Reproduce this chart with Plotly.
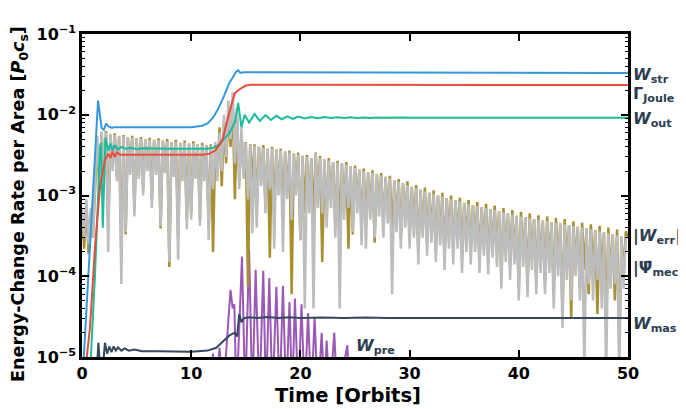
import plotly.graph_objects as go

# ---------------- data ----------------
# smooth curves: (time [orbits], value)
t_str = [0.15, 0.6, 1.0, 1.3, 1.47, 1.6, 1.8, 2.0, 2.2, 2.4, 2.7, 3.0, 5.0, 8.0, 10.0, 11.0, 11.5, 12.0, 12.5,
         13.0, 13.5, 13.8, 14.1, 14.3, 14.5, 14.8, 15.2, 16.0, 20.0, 30.0, 40.0, 50.0]
w_str = [9e-6, 1.07e-4, 1.05e-3, 5.7e-3, 1.5e-2, 1.1e-2, 6.8e-3, 6.5e-3, 7.8e-3, 7.2e-3, 6.9e-3, 7.0e-3, 7.0e-3,
         7.0e-3, 7.0e-3, 7.3e-3, 7.8e-3, 9.2e-3, 1.2e-2, 1.7e-2, 2.5e-2, 2.9e-2, 3.4e-2, 3.55e-2, 3.3e-2, 3.35e-2,
         3.35e-2, 3.3e-2, 3.3e-2, 3.3e-2, 3.3e-2, 3.3e-2]

t_joule = [0.4, 0.73, 1.19, 1.65, 2.1, 2.4, 2.6, 2.8, 3.0, 3.2, 3.5, 4.0, 8.0, 11.0, 11.7, 12.2, 12.6, 12.9, 13.2,
           13.5, 13.8, 14.0, 14.5, 15.0, 15.5, 20.0, 30.0, 50.0]
g_joule = [9e-6, 2.3e-5, 2.3e-4, 1.29e-3, 2.75e-3, 3.3e-3, 2.9e-3, 3.5e-3, 3.0e-3, 3.4e-3, 3.2e-3, 3.2e-3, 3.2e-3,
           3.2e-3, 3.3e-3, 3.6e-3, 4.3e-3, 5.0e-3, 7.5e-3, 1.1e-2, 1.5e-2, 1.85e-2, 2.1e-2, 2.3e-2, 2.35e-2,
           2.35e-2, 2.34e-2, 2.33e-2]

t_out = [0.8, 1.2, 1.65, 1.75, 1.9, 2.15, 2.4, 2.6, 2.8, 3.0, 3.3, 3.6, 4.0, 4.5, 5.0, 5.5, 8.0, 11.5, 12.0, 12.5,
         13.0, 13.5, 14.0, 14.3, 14.6, 14.9, 15.3, 15.8, 16.3, 16.8, 17.3, 17.8, 18.3, 18.8, 19.3, 19.8, 20.4,
         21.0, 21.6, 22.2, 22.8, 23.4, 24.0, 24.6, 25.2, 25.8, 26.4, 27.0, 27.6, 28.2, 28.8, 29.4, 30.0, 40.0, 50.0]
w_out = [9e-6, 1.1e-4, 4.0e-3, 4.5e-3, 4.0e-4, 5.2e-3, 3.6e-3, 4.4e-3, 3.6e-3, 4.2e-3, 3.7e-3, 4.0e-3, 3.8e-3,
         3.9e-3, 3.75e-3, 3.85e-3, 3.8e-3, 3.8e-3, 3.9e-3, 4.2e-3, 5.0e-3, 5.9e-3, 8.1e-3, 1.4e-2, 7.0e-3, 1.0e-2,
         8.0e-3, 1.02e-2, 8.4e-3, 9.9e-3, 8.6e-3, 9.7e-3, 8.8e-3, 9.55e-3, 8.9e-3, 9.5e-3, 9.0e-3, 9.4e-3,
         9.05e-3, 9.35e-3, 9.1e-3, 9.3e-3, 9.1e-3, 9.28e-3, 9.12e-3, 9.26e-3, 9.14e-3, 9.25e-3, 9.15e-3, 9.23e-3,
         9.16e-3, 9.22e-3, 9.2e-3, 9.2e-3, 9.2e-3]

t_mas = [1.3, 1.5, 1.7, 1.9, 2.1, 2.3, 2.5, 2.7, 2.9, 3.1, 3.3, 3.6, 3.9, 4.3, 4.8, 5.5, 7.0, 10.0, 11.5, 12.3,
         13.0, 13.5, 14.0, 14.2, 14.4, 14.6, 14.8, 15.2, 16.0, 17.0, 18.0, 19.0, 20.0, 22.0, 24.0, 26.0, 28.0,
         30.0, 40.0, 50.0]
w_mas = [5e-6, 1.5e-5, 6e-6, 7e-6, 1.5e-5, 1.1e-5, 1.35e-5, 1.15e-5, 1.35e-5, 1.2e-5, 1.32e-5, 1.2e-5, 1.28e-5,
         1.2e-5, 1.24e-5, 1.18e-5, 1.18e-5, 1.16e-5, 1.2e-5, 1.3e-5, 1.6e-5, 1.85e-5, 2.0e-5, 1.8e-5, 3.4e-5,
         2.7e-5, 3.0e-5, 3.1e-5, 3.05e-5, 3.12e-5, 3.04e-5, 3.1e-5, 3.05e-5, 3.09e-5, 3.04e-5, 3.08e-5, 3.05e-5,
         3.06e-5, 3.05e-5, 3.05e-5]

t_pre = [11.8, 12.0, 12.2, 12.6, 12.9, 13.6, 13.8, 13.95, 14.15, 14.65, 14.95, 15.3, 15.6, 15.9, 16.25, 16.6,
         16.85, 17.15, 17.45, 17.8, 18.1, 18.4, 18.7, 19.0, 19.25, 19.5, 19.8, 20.1, 20.4, 20.7, 21.0, 21.3,
         21.6, 21.95, 22.2, 22.4, 22.7, 23.1, 23.4, 24.3, 24.5, 24.8, 25.0]
w_pre = [3e-6, 1.1e-5, 3e-6, 1.3e-5, 3e-6, 6.8e-5, 4.0e-5, 4.5e-5, 3e-6, 1.75e-4, 3e-6, 2.15e-4, 3e-6, 1.2e-4,
         3e-6, 1.17e-4, 3e-6, 9.5e-5, 3e-6, 7.4e-5, 3e-6, 7.6e-5, 3e-6, 4.8e-5, 3e-6, 5.3e-5, 3e-6, 4.5e-5,
         3e-6, 3.5e-5, 3e-6, 3.1e-5, 3e-6, 2.0e-5, 3e-6, 1.6e-5, 3e-6, 2.0e-5, 3e-6, 1.4e-5, 3e-6, 1.0e-5, 3e-6]

# oscillating curves, sampled every 0.2 orbit from t = 0 to 50 (10 samples per row = 2 orbits)
t_osc = [0.2 * i for i in range(251)]
psi_mec = [
    7e-4, 3e-4, 9e-4, 2.5e-4, 7e-4, 3e-4, 1.5e-3, 5.5e-3, 1.5e-3, 6.2e-3,
    1.6e-3, 6e-3, 2e-4, 5.8e-3, 2e-3, 5.6e-3, 1.5e-3, 5.5e-3, 8e-5, 5.4e-3,
    3.5e-4, 5.3e-3, 1.8e-3, 5.2e-3, 5.5e-4, 5.1e-3, 1.6e-3, 5e-3, 1e-3, 5e-3,
    2e-3, 4.9e-3, 7e-4, 4.9e-3, 1.8e-3, 4.8e-3, 4.2e-4, 4.8e-3, 1.9e-3, 4.7e-3,
    1.5e-4, 4.6e-3, 1.7e-3, 4.6e-3, 1.6e-4, 4.5e-3, 1.5e-3, 4.5e-3, 3.8e-4, 4.4e-3,
    5e-4, 4.4e-3, 1.6e-3, 4.3e-3, 4.2e-4, 4.2e-3, 1.5e-3, 4.2e-3, 2.8e-4, 4.1e-3,
    1.2e-3, 4.6e-3, 1.5e-3, 6e-3, 2e-3, 1e-2, 3e-3, 1.5e-2, 5e-3, 1.9e-2,
    2.5e-3, 1.2e-2, 1.2e-3, 7e-3, 1.6e-3, 4.5e-3, 9e-4, 4.2e-3, 3.4e-4, 4.1e-3,
    4e-4, 4e-3, 1.3e-3, 3.9e-3, 6e-4, 3.8e-3, 1.2e-3, 3.8e-3, 2.2e-4, 3.7e-3,
    1e-3, 3.6e-3, 2e-4, 3.5e-3, 9e-4, 3.4e-3, 5e-4, 3.3e-3, 1e-3, 3.2e-3,
    2.8e-4, 3.1e-3, 4e-5, 3e-3, 6e-4, 2.9e-3, 4e-5, 3.3e-3, 7e-4, 2.9e-3,
    6e-4, 2.8e-3, 4e-4, 2.7e-3, 7e-4, 2.6e-3, 3e-4, 2.55e-3, 4e-5, 2.5e-3,
    5e-4, 2.4e-3, 7e-4, 2.3e-3, 3.5e-4, 2.2e-3, 6e-4, 2.1e-3, 2.4e-4, 2.0e-3,
    2.2e-4, 1.95e-3, 5e-4, 1.9e-3, 3e-4, 1.85e-3, 5.5e-4, 1.75e-3, 3e-4, 1.7e-3,
    4.5e-4, 1.62e-3, 6e-5, 1.55e-3, 3.5e-4, 1.48e-3, 2.2e-4, 1.42e-3, 4e-4, 1.35e-3,
    2.2e-4, 1.28e-3, 3e-4, 1.23e-3, 1.4e-4, 1.18e-3, 3e-4, 1.12e-3, 1.8e-4, 1.08e-3,
    2.6e-4, 1.04e-3, 1.5e-4, 1e-3, 2.4e-4, 9.6e-4, 1.2e-4, 9.3e-4, 2.2e-4, 9e-4,
    1.4e-4, 8.7e-4, 2.2e-4, 8.4e-4, 1.1e-4, 8.1e-4, 2e-4, 7.8e-4, 1.4e-4, 7.6e-4,
    2e-4, 7.4e-4, 1.1e-4, 7.2e-4, 1.8e-4, 7e-4, 1.05e-4, 6.8e-4, 1.7e-4, 6.6e-4,
    1.3e-4, 6.4e-4, 7e-5, 6.2e-4, 1.5e-4, 6e-4, 9e-5, 5.8e-4, 1.4e-4, 5.6e-4,
    5e-5, 5.5e-4, 1.3e-4, 5.4e-4, 5.5e-5, 5.2e-4, 1.2e-4, 5.1e-4, 6e-5, 5e-4,
    1.1e-4, 4.9e-4, 6e-5, 4.8e-4, 1.1e-4, 4.7e-4, 4e-5, 4.6e-4, 1e-4, 4.5e-4,
    2.3e-5, 4.4e-4, 9e-5, 4.3e-4, 5e-5, 4.2e-4, 1e-4, 4.1e-4, 5e-5, 4e-4,
    7e-6, 3.9e-4, 8e-5, 3.8e-4, 5e-5, 3.7e-4, 9e-5, 3.6e-4, 4e-5, 3.5e-4,
    6e-6, 3.4e-4, 7e-5, 3.3e-4, 8e-5, 3.2e-4, 6e-6, 3.1e-4, 7e-5, 3.05e-4,
    3e-4]
w_err = [
    6e-4, 2.2e-4, 8e-4, 1.9e-4, 5e-4, 3e-4, 1.2e-3, 4.5e-3, 1.2e-3, 6e-3,
    1.8e-3, 6.3e-3, 4e-4, 5.7e-3, 2.2e-3, 5.9e-3, 1.7e-3, 5.4e-3, 2e-4, 5.6e-3,
    3.3e-4, 5.3e-3, 2e-3, 5.5e-3, 7e-4, 5.1e-3, 1.8e-3, 5.3e-3, 1.2e-3, 5e-3,
    2.2e-3, 5.2e-3, 9e-4, 4.9e-3, 2e-3, 5.1e-3, 3.9e-4, 4.8e-3, 2e-3, 5e-3,
    1.3e-4, 4.6e-3, 1.9e-3, 4.9e-3, 3e-4, 4.5e-3, 1.7e-3, 4.8e-3, 5e-4, 4.4e-3,
    6e-4, 4.7e-3, 1.8e-3, 4.3e-3, 5e-4, 4.5e-3, 1.7e-3, 4.2e-3, 4e-4, 4.3e-3,
    2e-4, 4.2e-3, 1.8e-3, 7e-3, 1.3e-3, 8e-3, 2.5e-3, 1.1e-2, 4e-3, 1.4e-2,
    9e-4, 9e-3, 1.5e-3, 6e-3, 1.8e-3, 4.6e-3, 7.4e-5, 4.3e-3, 1.5e-3, 4.3e-3,
    6e-4, 4e-3, 1.5e-3, 4.2e-3, 8e-4, 3.8e-3, 1.7e-4, 4e-3, 6e-4, 3.7e-3,
    1.2e-3, 3.8e-3, 5e-4, 3.5e-3, 1.1e-3, 3.6e-3, 6e-5, 3.3e-3, 1.2e-3, 3.4e-3,
    2.8e-4, 3.1e-3, 6e-4, 3.2e-3, 8e-4, 2.9e-3, 5e-4, 3.4e-3, 9e-4, 3.1e-3,
    1.5e-4, 2.8e-3, 5e-4, 2.9e-3, 9e-4, 2.6e-3, 4e-4, 2.7e-3, 3e-4, 2.5e-3,
    7e-4, 2.6e-3, 2.2e-4, 2.3e-3, 3.3e-4, 2.35e-3, 8e-4, 2.1e-3, 4e-4, 2.15e-3,
    4e-4, 1.95e-3, 7e-4, 2.05e-3, 2.6e-4, 1.85e-3, 7e-4, 1.9e-3, 4e-4, 1.7e-3,
    6e-4, 1.75e-3, 3e-4, 1.55e-3, 5e-4, 1.6e-3, 3e-4, 1.42e-3, 5e-4, 1.5e-3,
    3e-4, 1.28e-3, 4e-4, 1.35e-3, 2e-4, 1.18e-3, 4e-4, 1.25e-3, 2.5e-4, 1.08e-3,
    3.5e-4, 1.16e-3, 2e-4, 1e-3, 3.2e-4, 1.08e-3, 1.8e-4, 9.3e-4, 3e-4, 1e-3,
    2e-4, 8.7e-4, 3e-4, 9.4e-4, 1.6e-4, 8.1e-4, 2.7e-4, 8.8e-4, 2e-4, 7.6e-4,
    2.7e-4, 8.3e-4, 1.6e-4, 7.2e-4, 2.4e-4, 7.9e-4, 1.5e-4, 6.8e-4, 2.3e-4, 7.5e-4,
    1.8e-4, 6.4e-4, 1e-4, 7e-4, 2e-4, 6e-4, 1.3e-4, 6.6e-4, 1.9e-4, 5.6e-4,
    7e-5, 6.3e-4, 1.7e-4, 5.4e-4, 8e-5, 6e-4, 1.6e-4, 5.1e-4, 8e-5, 5.7e-4,
    1.5e-4, 4.9e-4, 8e-5, 5.5e-4, 1.5e-4, 4.7e-4, 6e-5, 5.3e-4, 1.3e-4, 4.5e-4,
    3.5e-5, 5.1e-4, 1.2e-4, 4.3e-4, 3e-5, 4.8e-4, 1.3e-4, 4.1e-4, 7e-5, 4.6e-4,
    1.2e-4, 3.9e-4, 6e-5, 4.4e-4, 1.2e-4, 3.7e-4, 3.4e-5, 4.2e-4, 1.1e-4, 3.5e-4,
    2.2e-5, 4e-4, 1e-4, 3.3e-4, 5e-5, 3.8e-4, 1.2e-5, 3.1e-4, 1e-4, 3.6e-4,
    3e-4]

x_ticks = [0, 10, 20, 30, 40, 50]
y_ticks = [1e-5, 1e-4, 1e-3, 1e-2, 1e-1]
y_ticklabels = ["10<sup>−5</sup>", "10<sup>−4</sup>", "10<sup>−3</sup>", "10<sup>−2</sup>", "10<sup>−1</sup>"]

# ---------------- styling ----------------
C_STR, C_JOULE, C_OUT = "#3498db", "#e74c3c", "#1abc9c"
C_ERR, C_MEC = "#a88f30", "#bdbdbd"
C_MAS, C_PRE = "#34495e", "#9b59b6"
TXT = "#2c3e50"
FONT = "DejaVu Sans"

# the page adds an 8px body margin, so the figure is 8px smaller and margins are shifted
OFF = 8
PL, PT, PW, PH = 82, 34, 546, 323   # plot area in page pixels

fig = go.Figure()

def add(t, v, color, width):
    fig.add_trace(go.Scatter(x=t, y=v, mode="lines", line=dict(color=color, width=width),
                             showlegend=False, hoverinfo="skip"))

add(t_pre, w_pre, C_PRE, 2)
add(t_osc, w_err, C_ERR, 2.5)
add(t_osc, psi_mec, C_MEC, 2.5)
add(t_mas, w_mas, C_MAS, 2)
add(t_out, w_out, C_OUT, 2)
add(t_joule, g_joule, C_JOULE, 2)
add(t_str, w_str, C_STR, 2)

minor_vals = [m * 10.0 ** e for e in range(-5, -1) for m in range(2, 10)]

fig.update_xaxes(range=[0, 50], showgrid=False, zeroline=False,
                 showline=True, linecolor="black", linewidth=2.5, mirror="ticks",
                 ticks="inside", ticklen=7, tickwidth=1.5, tickcolor="black",
                 tickvals=x_ticks, ticktext=["<b>%d</b>" % v for v in x_ticks],
                 tickfont=dict(family=FONT, size=16, color="black"))
fig.update_yaxes(type="log", range=[-5, -1], showgrid=False, zeroline=False,
                 showline=True, linecolor="black", linewidth=2.5, mirror="ticks",
                 ticks="inside", ticklen=7, tickwidth=1.5, tickcolor="black",
                 tickvals=y_ticks, ticktext=["<b>%s</b>" % s for s in y_ticklabels],
                 tickfont=dict(family=FONT, size=16, color="black"),
                 minor=dict(tickvals=minor_vals, ticks="inside", ticklen=3.5, tickwidth=1, tickcolor="black"))

def px_x(px):
    return (px - PL) / PW

def px_y(py):
    return (PT + PH - py) / PH

def lab(text, ypix, xpix=631, size=16):
    fig.add_annotation(x=px_x(xpix), y=px_y(ypix), xref="paper", yref="paper",
                       xanchor="left", yanchor="middle", showarrow=False,
                       text="<b>%s</b>" % text, font=dict(family=FONT, size=size, color=TXT))

lab("<i>W</i><sub>str</sub>", 76)
lab("Γ<sub>Joule</sub>", 94)
lab("<i>W</i><sub>out</sub>", 120)
lab("|<i>W</i><sub>err</sub>|", 236)
lab("|Ψ̇<sub>mec</sub>|", 268)
lab("<i>W</i><sub>mas</sub>", 324)
lab("<i>W</i><sub>pre</sub>", 346, xpix=354)

fig.add_annotation(x=px_x(19), y=px_y(204), xref="paper", yref="paper",
                   textangle=-90, showarrow=False, xanchor="center", yanchor="middle",
                   text="<b>Energy-Change Rate per Area [<i>P</i><sub>0</sub><i>c</i><sub>s</sub>]</b>",
                   font=dict(family=FONT, size=17.6, color="black"))
fig.add_annotation(x=px_x(348), y=px_y(395), xref="paper", yref="paper",
                   showarrow=False, xanchor="center", yanchor="middle",
                   text="<b>Time [Orbits]</b>", font=dict(family=FONT, size=19.5, color="black"))

fig.update_layout(width=686 - OFF, height=409 - OFF,
                  margin=dict(l=PL - OFF, r=686 - PL - PW, t=PT - OFF, b=409 - PT - PH),
                  plot_bgcolor="white", paper_bgcolor="white", showlegend=False,
                  font=dict(family=FONT, color="black"))

fig.write_html("out.html")
